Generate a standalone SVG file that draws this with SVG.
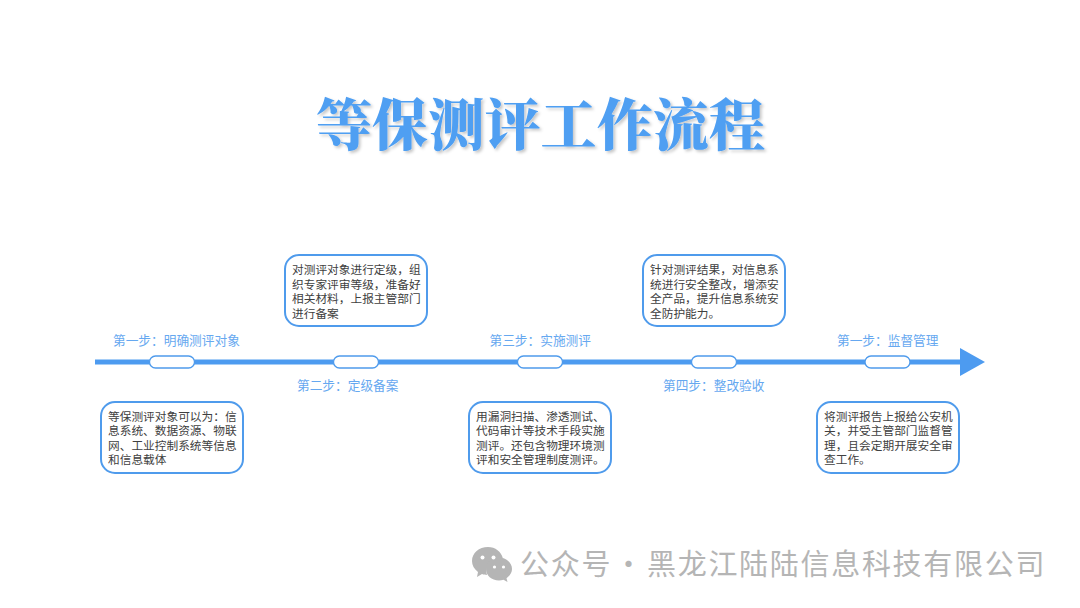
<svg xmlns="http://www.w3.org/2000/svg" width="1080" height="608" viewBox="0 0 1080 608">
<defs>
<style>
text{font-family:"Noto Sans CJK SC","Liberation Sans",sans-serif}
.title{font-family:"Noto Serif CJK SC","Source Han Serif SC","Noto Sans CJK SC",serif;font-size:56px;font-weight:900;fill:#4f9ff2;filter:url(#ts)}
.box{fill:#fff;stroke:#4f9bec;stroke-width:2}
.pill{fill:#fff;stroke:#4f9bec;stroke-width:1.3}
.body{font-size:11.7px;fill:#404040}
.step{font-size:12.7px;fill:#66a8f0}
.mark{font-size:29px;fill:#b5b5b5;letter-spacing:1.7px}
.ic{fill:#b5b5b5}
</style>
<filter id="ts" x="-5%" y="-20%" width="110%" height="140%"><feDropShadow dx="2" dy="2" stdDeviation="1.6" flood-color="#000" flood-opacity=".22"/></filter>
<marker id="ah" markerUnits="userSpaceOnUse" markerWidth="25" markerHeight="28" refX="0" refY="14" orient="auto"><path d="M0 0L25 14L0 28Z" fill="#4d9bf0"/></marker>
</defs>
<rect width="1080" height="608" fill="#fff"/>
<g id="title"><text class="title" x="316" y="145" textLength="449" lengthAdjust="spacing">等保测评工作流程</text></g>
<g id="connectors"><line x1="95" y1="362" x2="960" y2="362" stroke="#4d9bf0" stroke-width="5" marker-end="url(#ah)"/></g>
<g id="step1">
<rect class="pill" x="149.500" y="356" width="45" height="12" rx="6"/>
<text class="step" x="113" y="345">第一步：明确测评对象</text>
<rect class="box" x="101" y="402" width="142" height="71" rx="14"/>
<text class="body"><tspan x="108" y="420.500">等保测评对象可以为：信</tspan><tspan x="108" y="435">息系统、数据资源、物联</tspan><tspan x="108" y="449.500">网、工业控制系统等信息</tspan><tspan x="108" y="464">和信息载体</tspan></text>
</g>
<g id="step2">
<rect class="pill" x="333.500" y="356" width="45" height="12" rx="6"/>
<text class="step" x="297" y="390">第二步：定级备案</text>
<rect class="box" x="285" y="255" width="142" height="71" rx="14"/>
<text class="body"><tspan x="292" y="274">对测评对象进行定级，组</tspan><tspan x="292" y="288.500">织专家评审等级，准备好</tspan><tspan x="292" y="303">相关材料，上报主管部门</tspan><tspan x="292" y="317.500">进行备案</tspan></text>
</g>
<g id="step3">
<rect class="pill" x="517.500" y="356" width="45" height="12" rx="6"/>
<text class="step" x="489.500" y="345">第三步：实施测评</text>
<rect class="box" x="469" y="402" width="142" height="71" rx="14"/>
<text class="body"><tspan x="476" y="420.500">用漏洞扫描、渗透测试、</tspan><tspan x="476" y="435">代码审计等技术手段实施</tspan><tspan x="476" y="449.500">测评。还包含物理环境测</tspan><tspan x="476" y="464">评和安全管理制度测评。</tspan></text>
</g>
<g id="step4">
<rect class="pill" x="691.500" y="356" width="45" height="12" rx="6"/>
<text class="step" x="663" y="390">第四步：整改验收</text>
<rect class="box" x="643" y="255" width="142" height="71" rx="14"/>
<text class="body"><tspan x="650" y="274">针对测评结果，对信息系</tspan><tspan x="650" y="288.500">统进行安全整改，增添安</tspan><tspan x="650" y="303">全产品，提升信息系统安</tspan><tspan x="650" y="317.500">全防护能力。</tspan></text>
</g>
<g id="step5">
<rect class="pill" x="865" y="356" width="45" height="12" rx="6"/>
<text class="step" x="837" y="345">第一步：监督管理</text>
<rect class="box" x="817" y="402" width="142" height="71" rx="14"/>
<text class="body"><tspan x="824" y="420.500">将测评报告上报给公安机</tspan><tspan x="824" y="435">关，并受主管部门监督管</tspan><tspan x="824" y="449.500">理，且会定期开展安全审</tspan><tspan x="824" y="464">查工作。</tspan></text>
</g>
<g id="watermark">
<path class="ic" d="M488 547c-9 0-16 6-16 14 0 4 2 8 6 11l-1 5 5-3c2 .6 3 .8 5 .9-.4-1.300-.6-2.600-.6-4 0-8 7-13 15-13h1.400c-1.500-6-7.500-10.900-14.800-10.900z"/>
<path class="ic" d="M512 569c0-6.500-6.300-11.500-13-11.500-7.500 0-13 5-13 11.500s5.500 11.500 13 11.500c1.500 0 3-.3 4.500-.8l4 2.300-1-3.800c3.300-2.400 5.500-5.600 5.500-9.200z"/>
<g fill="#fff"><circle cx="482.500" cy="557.500" r="2"/><circle cx="493.500" cy="557.500" r="2"/><circle cx="494.500" cy="567" r="1.600"/><circle cx="503.500" cy="567" r="1.600"/></g>
<text class="mark" y="575"><tspan x="520">公众号</tspan><tspan x="614">·</tspan><tspan x="647">黑龙江陆陆信息科技有限公司</tspan></text>
</g>
</svg>
